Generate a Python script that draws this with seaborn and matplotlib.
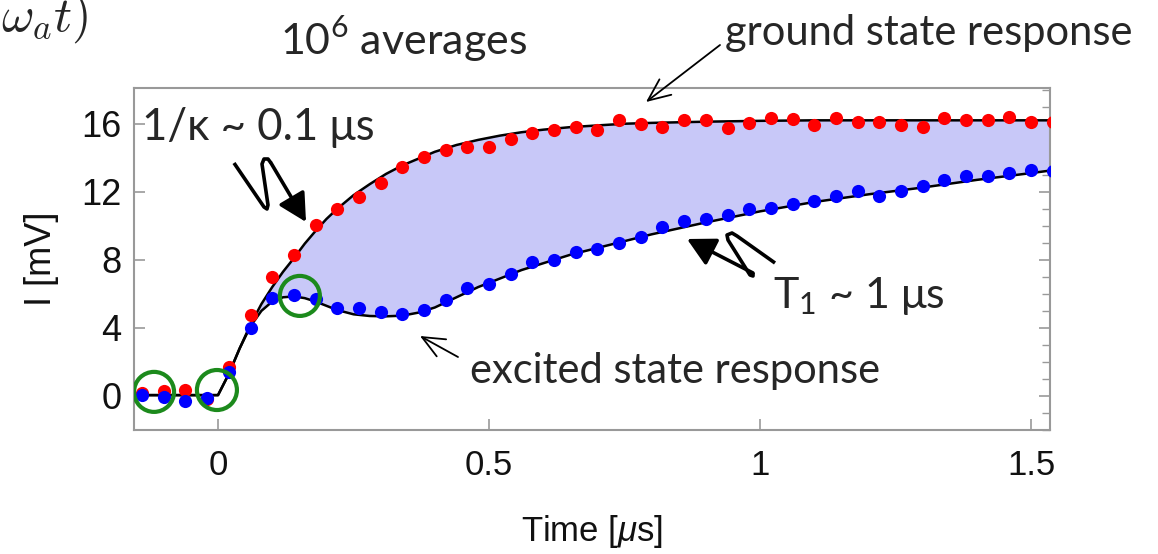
import matplotlib
matplotlib.use('Agg')
import matplotlib.pyplot as plt
import seaborn as sns
import pandas as pd
from matplotlib.ticker import MultipleLocator
from matplotlib.lines import Line2D
from matplotlib.patches import FancyArrowPatch

# measured points: time in microseconds, I in mV
time_us = [-0.14, -0.10, -0.06, -0.02, 0.02, 0.06, 0.10, 0.14, 0.18, 0.22,
           0.26, 0.30, 0.34, 0.38, 0.42, 0.46, 0.50, 0.54, 0.58, 0.62,
           0.66, 0.70, 0.74, 0.78, 0.82, 0.86, 0.90, 0.94, 0.98, 1.02,
           1.06, 1.10, 1.14, 1.18, 1.22, 1.26, 1.30, 1.34, 1.38, 1.42,
           1.46, 1.50, 1.54]
ground_mv = [0.15, 0.27, 0.37, -0.20, 1.69, 4.73, 6.98, 8.31, 10.02, 10.96,
             11.72, 12.49, 13.47, 14.04, 14.43, 14.63, 14.63, 15.08, 15.43, 15.63,
             15.82, 15.61, 16.20, 15.96, 15.82, 16.22, 16.22, 15.73, 16.02, 16.35,
             16.26, 15.93, 16.35, 16.12, 16.10, 15.92, 15.82, 16.35, 16.20, 16.20,
             16.41, 16.10, 16.10]
excited_mv = [0.08, -0.08, -0.28, -0.12, 1.41, 4.00, 5.76, 5.96, 5.72, 5.18,
              5.16, 4.92, 4.84, 5.08, 5.63, 6.35, 6.61, 7.14, 7.86, 8.02,
              8.47, 8.65, 9.00, 9.33, 9.92, 10.27, 10.43, 10.63, 10.96, 11.06,
              11.29, 11.45, 11.74, 12.04, 11.74, 12.04, 12.33, 12.72, 12.92, 12.92,
              13.08, 13.31, 13.21]

# fitted curves
fit_time = [-0.16, -0.12, -0.08, -0.04, 0.0, 0.02, 0.04, 0.06, 0.08, 0.10,
            0.12, 0.14, 0.16, 0.18, 0.20, 0.22, 0.25, 0.28, 0.31, 0.34,
            0.37, 0.40, 0.44, 0.48, 0.52, 0.56, 0.60, 0.65, 0.70, 0.75,
            0.80, 0.90, 1.00, 1.10, 1.20, 1.30, 1.40, 1.50, 1.56]
fit_ground = [0.05, 0.05, 0.05, 0.05, 0.05, 1.3, 2.8, 4.2, 5.4, 6.4,
              7.3, 8.1, 8.95, 9.7, 10.4, 11.0, 11.8, 12.45, 13.05, 13.55,
              13.95, 14.35, 14.75, 15.05, 15.3, 15.5, 15.65, 15.8, 15.9, 16.0,
              16.05, 16.12, 16.17, 16.2, 16.2, 16.2, 16.2, 16.2, 16.2]
fit_excited = [0.05, 0.05, 0.05, 0.05, 0.05, 1.3, 2.8, 4.1, 5.0, 5.55,
               5.8, 5.85, 5.75, 5.55, 5.3, 5.05, 4.8, 4.7, 4.68, 4.72,
               4.9, 5.2, 5.8, 6.4, 6.9, 7.4, 7.8, 8.3, 8.7, 9.1,
               9.5, 10.2, 10.85, 11.4, 11.85, 12.25, 12.7, 13.1, 13.35]

# highlighted points (green circles)
circle_time = [-0.118, -0.002, 0.151]
circle_mv = [0.24, 0.35, 5.88]

W, H = 1158, 554

sns.set_theme(style='white')
plt.rcParams['font.family'] = ['Liberation Sans', 'DejaVu Sans']
plt.rcParams['mathtext.fontset'] = 'custom'
plt.rcParams['mathtext.it'] = 'Liberation Sans:italic'
plt.rcParams['mathtext.rm'] = 'Lato'

fig = plt.figure(figsize=(W / 100, H / 100), dpi=100)
ax = fig.add_axes([134 / W, 1 - 430 / H, 916 / W, 342 / H])

ax.fill_between(fit_time, fit_excited, fit_ground, color='#c8c8f8', lw=0, zorder=1)
sns.lineplot(x=fit_time, y=fit_ground, color='black', lw=1.8, sort=False,
             estimator=None, ax=ax, zorder=2)
sns.lineplot(x=fit_time, y=fit_excited, color='black', lw=1.8, sort=False,
             estimator=None, ax=ax, zorder=2)

pts = pd.DataFrame({'t': time_us, 'g': ground_mv, 'e': excited_mv})
sns.scatterplot(data=pts, x='t', y='g', color='#ff0000', s=90, linewidth=0,
                ax=ax, zorder=3)
sns.scatterplot(data=pts, x='t', y='e', color='#0000ff', s=90, linewidth=0,
                ax=ax, zorder=4)
ax.scatter(circle_time, circle_mv, s=830, facecolors='none',
           edgecolors='#1c8a1c', linewidths=3, zorder=5)

ax.set_xlim(-0.155, 1.535)
ax.set_ylim(-2.0, 18.1)
ax.set_xticks([0, 0.5, 1, 1.5])
ax.set_xticklabels(['0', '0.5', '1', '1.5'])
ax.set_yticks([0, 4, 8, 12, 16])
ax.yaxis.set_minor_locator(MultipleLocator(1))
for s in ax.spines.values():
    s.set_color('#999999')
    s.set_linewidth(1.5)
ax.tick_params(which='both', direction='in', colors='#999999', labelcolor='#111111')
ax.tick_params(axis='x', which='major', bottom=True, top=False, length=8, width=1.2,
               labelsize=25, pad=14)
ax.tick_params(axis='y', which='major', left=True, right=True, length=8, width=1.2,
               labelsize=26, pad=9)
ax.tick_params(axis='y', which='minor', left=False, right=True, length=6, width=1.0)
ax.set_xlabel('Time [$\\mu$s]', fontsize=25, labelpad=22, color='#111111')
ax.set_ylabel('I [mV]', fontsize=26, labelpad=16, color='#111111')


def pix(x, y):
    return (x / W, 1 - y / H)


anno_font = ['Lato', 'DejaVu Sans']
fig.text(*pix(88, 31), '$\\omega_a t)$', fontsize=36, ha='right', va='baseline',
         math_fontfamily='cm')
fig.text(*pix(280, 55), '10$^{6}$ averages', fontsize=31, family=anno_font,
         va='baseline')
fig.text(*pix(725, 45), 'ground state response', fontsize=30, family=anno_font,
         va='baseline')
fig.text(*pix(142, 140), '1/κ ~ 0.1 μs', fontsize=31.5, family=anno_font,
         va='baseline')
fig.text(*pix(773, 308), 'T$_1$ ~ 1 μs', fontsize=31, family=anno_font,
         va='baseline')
fig.text(*pix(470, 383), 'excited state response', fontsize=30, family=anno_font,
         va='baseline')

# thin pointer arrows
thin = dict(arrowstyle='->,head_length=0.8,head_width=0.35', color='black', lw=1.3,
            mutation_scale=20, shrinkA=0, shrinkB=0)
fig.add_artist(FancyArrowPatch(pix(720, 45), pix(646, 102),
                               transform=fig.transFigure, **thin))
fig.add_artist(FancyArrowPatch(pix(458, 357), pix(420, 336),
                               transform=fig.transFigure, **thin))


# zigzag arrows
def zigzag(path, tip):
    xs, ys = zip(*[pix(x, y) for x, y in path])
    fig.add_artist(Line2D(xs, ys, transform=fig.transFigure, color='black', lw=2.6,
                          solid_joinstyle='round', solid_capstyle='butt'))
    fig.add_artist(FancyArrowPatch(
        pix(*path[-1]), pix(*tip), transform=fig.transFigure,
        arrowstyle='-|>,head_length=0.85,head_width=0.45', mutation_scale=20,
        color='black', lw=2.6, shrinkA=0, shrinkB=0))


zigzag([(234, 163), (264, 207), (267, 209), (268, 205), (262, 164), (264, 159),
        (268, 159), (271, 163)], (306, 222))
zigzag([(775, 263), (737, 236), (732, 233), (727, 235), (728, 240), (750, 275),
        (753, 276), (753, 273)], (687, 239))

fig.savefig('out.png', dpi=100)
